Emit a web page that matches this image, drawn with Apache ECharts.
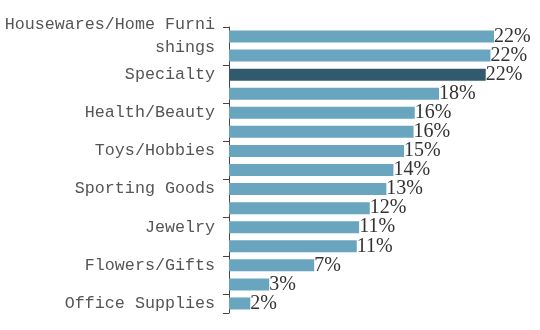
<!DOCTYPE html>
<html>
<head>
<meta charset="utf-8">
<script src="https://cdn.jsdelivr.net/npm/echarts@6/dist/echarts.min.js"></script>
<style>html,body{margin:0;padding:0;background:#fff;}#c{width:540px;height:330px;}</style>
</head>
<body>
<div id="c"></div>
<script>
var categories = [
  'Housewares/Home Furnishings', 'Apparel/Accessories', 'Specialty', 'Computers/Electronics',
  'Health/Beauty', 'Books/Music/Video', 'Toys/Hobbies', 'Mass Merchant',
  'Sporting Goods', 'Hardware/Home Improvement', 'Jewelry', 'Food/Drug',
  'Flowers/Gifts', 'Automotive Parts/Accessories', 'Office Supplies'
];
var values = [22.4, 22.1, 21.7, 17.75, 15.7, 15.6, 14.8, 13.9, 13.3, 11.9, 11.0, 10.8, 7.2, 3.4, 1.8];
var highlightCategory = 'Specialty';

var chart = echarts.init(document.getElementById('c'), null, {renderer: 'canvas'});
var data = values.map(function (v, i) {
  return {
    value: v,
    itemStyle: { color: categories[i] === highlightCategory ? '#315a6c' : '#6aa5c0' }
  };
});
chart.setOption({
  animation: false,
  grid: { left: 225, right: 46, top: 27, bottom: 17, containLabel: false },
  xAxis: {
    type: 'value', min: 0, max: 'dataMax', show: false
  },
  yAxis: {
    type: 'category', inverse: true, data: categories,
    axisLine: { show: true, lineStyle: { color: '#444', width: 1 } },
    axisTick: { show: true, length: 6, lineStyle: { color: '#444' } },
    axisLabel: {
      interval: 1, margin: 14, color: '#555',
      fontFamily: 'Liberation Mono', fontSize: 16.7, lineHeight: 23,
      width: 212, overflow: 'breakAll'
    }
  },
  series: [{
    type: 'bar', data: data, barCategoryGap: '37%',
    label: {
      show: true, position: 'right', distance: 0,
      fontFamily: 'Liberation Serif', fontSize: 20, color: '#333',
      formatter: function (p) { return Math.round(p.value) + '%'; }
    }
  }]
});
</script>
</body>
</html>
